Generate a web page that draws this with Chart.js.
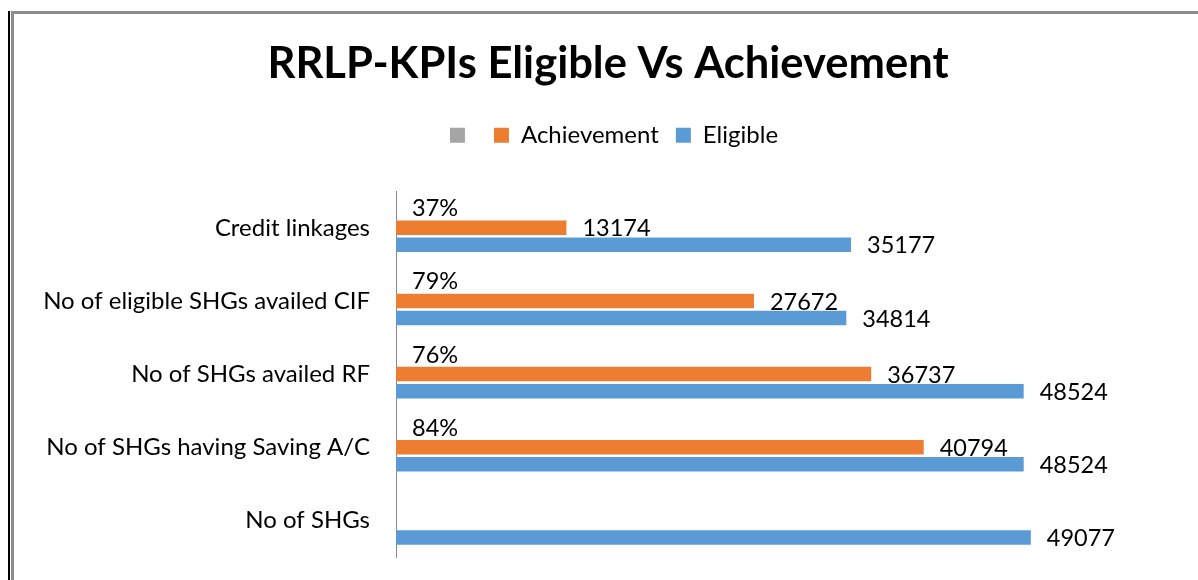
<!DOCTYPE html>
<html>
<head>
<meta charset="utf-8">
<title>RRLP-KPIs Eligible Vs Achievement</title>
<script src="https://cdn.jsdelivr.net/npm/chart.js@4.4.0/dist/chart.umd.min.js"></script>
<style>
  html, body { margin: 0; padding: 0; background: #fff; }
  #wrap { position: relative; width: 1198px; height: 580px; overflow: hidden; }
  #frameOuter { position: absolute; left: 8px; top: 11px; bottom: 0; width: 0; border-left: 2px solid #000; }
  #frameInner { position: absolute; left: 11px; top: 11px; right: 0; bottom: 0; border-left: 3px solid #8c8c8c; border-top: 3px solid #8c8c8c; }
  canvas { position: absolute; left: 0; top: 0; }
</style>
</head>
<body>
<div id="wrap">
  <div id="frameOuter"></div>
  <div id="frameInner"></div>
  <canvas id="myChart" width="1198" height="580"></canvas>
</div>
<script>
// dữ liệu
const categories = ["Credit linkages", "No of eligible SHGs availed CIF", "No of SHGs availed RF", "No of SHGs having Saving A/C", "No of SHGs"];
const achievementPct = [0.37, 0.79, 0.76, 0.84, null];
const achievement = [13174, 27672, 36737, 40794, null];
const eligible = [35177, 34814, 48524, 48524, 49077];
const seriesNames = ["", "Achievement", "Eligible"];
const seriesColors = ["#A5A5A5", "#ED7D31", "#5B9BD5"];

const FONT = "Lato, 'Noto Sans', sans-serif";

// nhãn giá trị ở cuối thanh
const valueLabels = {
    id: "valueLabels",
    afterDatasetsDraw(chart) {
        const ctx = chart.ctx;
        ctx.save();
        ctx.font = "23.5px " + FONT;
        ctx.fillStyle = "#000";
        ctx.textAlign = "left";
        ctx.textBaseline = "middle";
        chart.data.datasets.forEach((ds, i) => {
            const meta = chart.getDatasetMeta(i);
            meta.data.forEach((bar, j) => {
                const v = ds.data[j];
                if (v == null) return;
                const isPct = i === 0;
                const text = isPct ? Math.round(v * 100) + "%" : String(v);
                ctx.fillText(text, bar.x + 16, bar.y + (isPct ? -2 : 1));
            });
        });
        ctx.restore();
    }
};

// chú giải: thêm khoảng trống phía dưới và dịch sang phải một chút
const legendTweak = {
    id: "legendTweak",
    beforeLayout(chart) {
        const legend = chart.legend;
        if (!legend || legend._patched) return;
        const fit = legend.fit;
        const draw = legend.draw;
        legend.fit = function () {
            fit.call(this);
            this.height += 34;
        };
        legend.draw = function () {
            this.ctx.save();
            this.ctx.translate(6, 0);
            draw.call(this);
            this.ctx.restore();
        };
        legend._patched = true;
    }
};

const ctx = document.getElementById("myChart").getContext("2d");
new Chart(ctx, {
    type: "bar",
    data: {
        labels: categories,
        datasets: [
            { label: seriesNames[0], data: achievementPct, backgroundColor: seriesColors[0] },
            { label: seriesNames[1], data: achievement, backgroundColor: seriesColors[1] },
            { label: seriesNames[2], data: eligible, backgroundColor: seriesColors[2] }
        ]
    },
    options: {
        indexAxis: "y",
        responsive: false,
        animation: false,
        layout: { padding: { left: 18, right: 0, top: 0, bottom: 23 } },
        datasets: { bar: { categoryPercentage: 0.7, barPercentage: 0.85 } },
        plugins: {
            title: {
                display: true,
                text: "RRLP-KPIs Eligible Vs Achievement",
                color: "#000",
                font: { family: FONT, size: 43.5, weight: "bold" },
                padding: { top: 38, bottom: 16 }
            },
            legend: {
                labels: {
                    color: "#000",
                    font: { family: FONT, size: 24 },
                    boxWidth: 15,
                    boxHeight: 15,
                    padding: 17
                }
            },
            tooltip: { enabled: false }
        },
        scales: {
            x: { display: false, min: 0, max: 62000 },
            y: {
                grid: { display: false, drawTicks: false },
                border: { display: true, color: "#888", width: 1 },
                ticks: { color: "#000", font: { family: FONT, size: 24 }, padding: 26 },
                afterFit(scale) {
                    scale.width = 378;
                    scale.paddingTop = 0;
                    scale.paddingBottom = 0;
                }
            }
        }
    },
    plugins: [valueLabels, legendTweak]
});
</script>
</body>
</html>
